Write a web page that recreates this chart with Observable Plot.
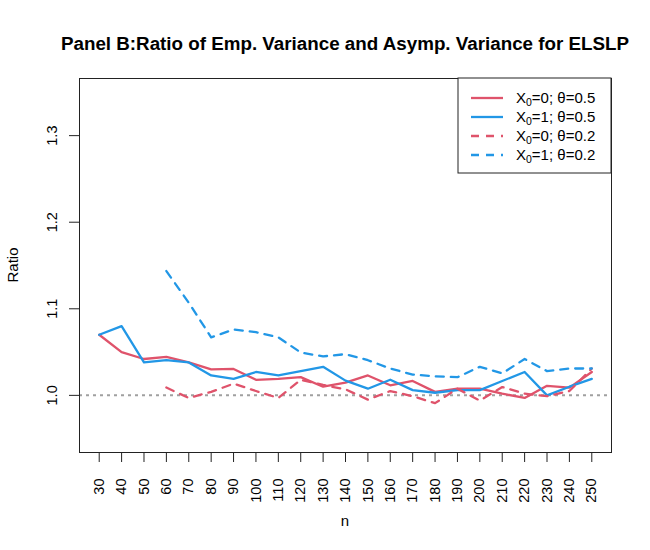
<!DOCTYPE html>
<html><head><meta charset="utf-8">
<script src="https://cdn.jsdelivr.net/npm/d3@7"></script>
<script src="https://cdn.jsdelivr.net/npm/@observablehq/plot@0.6"></script>
<style>body{margin:0;background:#fff;} svg{font-family:"Liberation Sans",Arial,sans-serif;}</style>
</head><body><div id="chart"></div>
<script>
const nValues = [30,40,50,60,70,80,90,100,110,120,130,140,150,160,170,180,190,200,210,220,230,240,250];
const x0_0_t05 = [1.070,1.050,1.042,1.0445,1.038,1.030,1.0305,1.018,1.019,1.021,1.010,1.0147,1.023,1.0116,1.0166,1.004,1.0077,1.0077,1.002,0.997,1.011,1.009,1.027];
const x0_1_t05 = [1.070,1.080,1.038,1.0406,1.038,1.023,1.019,1.027,1.023,1.028,1.033,1.017,1.0077,1.018,1.006,1.003,1.006,1.006,1.0166,1.027,1.000,1.010,1.019];
const x0_0_t02 = [null,null,null,1.009,0.997,1.004,1.0135,1.005,0.997,1.018,1.012,1.007,0.995,1.005,0.999,0.991,1.0077,0.994,1.0096,1.002,0.999,1.005,1.031];
const x0_1_t02 = [null,null,null,1.1436,1.107,1.067,1.076,1.073,1.067,1.0495,1.045,1.0476,1.0406,1.031,1.024,1.022,1.021,1.033,1.0255,1.042,1.028,1.031,1.031];
const yTicks = [1.0,1.1,1.2,1.3];
const seriesLabels = [["0","0.5"],["1","0.5"],["0","0.2"],["1","0.2"]];
const red = "#DF536B", blue = "#2297E6";
const colors = [red, blue, red, blue];
const dashes = [null, null, "8,7", "8,7"];
const allSeries = [x0_0_t05, x0_1_t05, x0_0_t02, x0_1_t02];

const rows = s => nValues.map((n,i)=>({n, v: s[i]})).filter(d => d.v != null);

const W = 650, H = 550;
const mL = 79, mR = 39, mT = 78, mB = 98;

const plot = Plot.plot({
  width: W, height: H,
  marginLeft: mL, marginRight: mR, marginTop: mT, marginBottom: mB,
  style: {fontFamily: '"Liberation Sans",Arial,sans-serif', fontSize: "14px", color: "#000", background: "#fff"},
  x: {domain: [21.2, 258.8], axis: null},
  y: {domain: [0.934, 1.366], axis: null},
  marks: [
    Plot.ruleY([1.0], {stroke: "#a0a0a0", strokeWidth: 2, strokeDasharray: "3,4"}),
    ...allSeries.map((s,k) => Plot.line(rows(s), {x: "n", y: "v", stroke: colors[k], strokeWidth: 2.3, strokeDasharray: dashes[k]})),
    Plot.frame({stroke: "#222", strokeWidth: 1}),
    Plot.axisX({ticks: nValues, tickSize: 10, tickPadding: 16, tickRotate: -90, tickFormat: d => String(d), fontSize: 14.5, label: null, stroke: "#222"}),
    Plot.axisY({ticks: yTicks, tickSize: 10, tickPadding: 13, tickRotate: -90, tickFormat: d3.format(".1f"), fontSize: 14.5, label: null, stroke: "#222"})
  ]
});
document.getElementById("chart").appendChild(plot);

const svg = d3.select(plot);
svg.append("text").attr("x", (mL + W - mR)/2).attr("y", 50).attr("text-anchor","middle")
  .attr("font-weight","bold").attr("font-size", 18.8).attr("fill","#000")
  .text("Panel B:Ratio of Emp. Variance and Asymp. Variance for ELSLP");
svg.append("text").attr("transform", `translate(18,${(mT + H - mB)/2}) rotate(-90)`)
  .attr("text-anchor","middle").attr("font-size",15).attr("fill","#000").text("Ratio");
svg.append("text").attr("x", (mL + W - mR)/2).attr("y", 526).attr("text-anchor","middle")
  .attr("font-size",15).attr("fill","#000").text("n");

// legend
const lx = 458, ly = 78, lw = W - mR - lx, lh = 95;
const lg = svg.append("g");
lg.append("rect").attr("x", lx).attr("y", ly).attr("width", lw).attr("height", lh)
  .attr("fill","#fff").attr("stroke","#222").attr("stroke-width",1);
seriesLabels.forEach((lab,k) => {
  const yy = ly + 20 + k*19;
  lg.append("line").attr("x1", lx+13).attr("x2", lx+45).attr("y1", yy).attr("y2", yy)
    .attr("stroke", colors[k]).attr("stroke-width", 2.3).attr("stroke-dasharray", dashes[k]);
  const t = lg.append("text").attr("x", lx+58).attr("y", yy+5).attr("text-anchor","start")
    .attr("font-size", 15).attr("fill","#000");
  t.append("tspan").text("X");
  t.append("tspan").attr("font-size", 10.5).attr("dy", 3).text("0");
  t.append("tspan").attr("dy", -3).text(`=${lab[0]}; \u03B8=${lab[1]}`);
});
</script></body></html>
